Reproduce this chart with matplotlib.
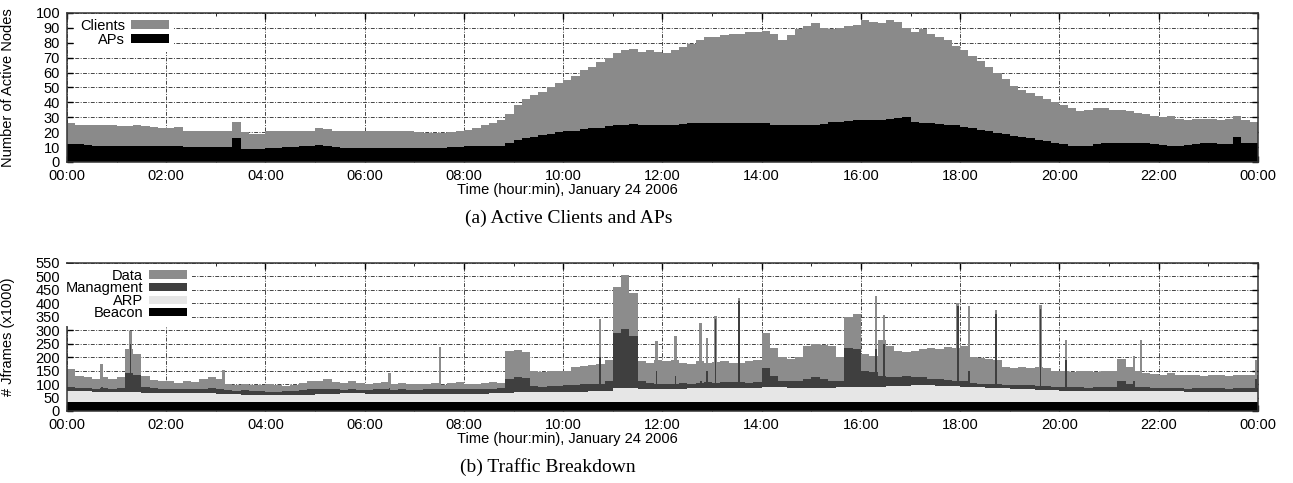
import matplotlib
matplotlib.use("Agg")
import matplotlib.pyplot as plt
import numpy as np

plt.rcParams['font.family'] = ['Liberation Sans', 'DejaVu Sans']

# time axis (hours), labels every 2 hours
hour_ticks = [0, 2, 4, 6, 8, 10, 12, 14, 16, 18, 20, 22, 24]
hour_labels = ["00:00", "02:00", "04:00", "06:00", "08:00", "10:00", "12:00",
               "14:00", "16:00", "18:00", "20:00", "22:00", "00:00"]

# (a) active nodes, one value per 10 minutes, 00:00 .. 24:00
clients = [26, 25, 25, 24.5, 25, 24.5,
           24, 24, 24.5, 24, 23.5, 23,
           23, 23.5, 21, 21, 20.5, 21,
           21, 20.5, 27, 20, 19, 18.5,
           20.5, 20.5, 21, 21, 20.5, 21,
           22.5, 22, 21, 21, 21, 20.5,
           20.5, 20.5, 20.5, 20.5, 20.5, 20.5,
           20, 19.5, 19.5, 19.5, 20, 21,
           21.5, 23, 25, 26, 28, 32,
           38, 42, 45, 47, 50, 53,
           55, 58, 62, 64, 67, 70,
           73, 75, 76, 74, 75, 74,
           73, 75, 77, 79, 82, 84,
           84, 85, 86, 86, 87, 87,
           88, 86, 82, 85, 89, 91,
           93, 90, 89, 90, 91, 92,
           95, 94, 93, 95, 94, 90,
           87, 89, 86, 84, 82, 78,
           75, 71, 68, 64, 60, 56,
           51, 48, 46, 44, 42, 40,
           38, 36, 34, 35, 36, 36,
           35, 35, 34, 33, 32, 31,
           30, 31, 29, 28.5, 29, 29,
           29, 28.5, 29, 31, 28, 27,
           27]
aps = [12, 12, 11.5, 11, 11, 11,
       11, 10.5, 10.5, 10.5, 10.5, 10.5,
       10.5, 10.5, 10, 10, 10, 10,
       10, 10, 16, 9, 8.5, 9,
       9.5, 9.5, 10, 10, 10.5, 11,
       11.5, 11, 10, 9.5, 9.5, 9.5,
       9.5, 9.5, 9.5, 9.5, 9.5, 9.5,
       9.5, 9.5, 9.5, 9.5, 10, 10,
       10.5, 10.5, 11, 11, 11, 13,
       15, 16, 17, 18, 19, 20,
       20.5, 21, 22, 23, 23, 24,
       24.5, 25, 25.5, 25, 24.5, 24.5,
       24.5, 25, 25.5, 26, 26, 26,
       26, 26, 26, 26.5, 26.5, 26.5,
       26, 25, 24.5, 24.5, 25, 25,
       25, 25.5, 27, 27, 27.5, 28,
       28.5, 28, 28.5, 29, 29.5, 30,
       27, 26, 26, 25.5, 25, 24.5,
       23.5, 22.5, 21.5, 20.5, 19.5, 18.5,
       17.5, 16.5, 16, 15, 14, 13,
       12, 11, 10.5, 11, 12, 12.5,
       12.5, 12.5, 12.5, 12.5, 12.5, 12,
       11.5, 11, 11, 11.5, 12, 12.5,
       12.5, 12, 12, 17, 12.5, 12.5,
       12]

# (b) frames (x1000), top of each stacked layer
data_top = [155, 130, 125, 120, 128, 118,
            125, 230, 210, 130, 115, 112,
            110, 105, 112, 108, 120, 128,
            118, 100, 98, 100, 95, 98,
            100, 95, 92, 98, 105, 112,
            110, 118, 108, 105, 112, 105,
            102, 105, 108, 100, 104, 100,
            100, 102, 104, 98, 105, 108,
            100, 102, 104, 108, 105, 222,
            228, 218, 148, 145, 150, 148,
            150, 165, 168, 170, 175, 190,
            460, 505, 440, 185, 180, 190,
            185, 190, 180, 175, 185, 180,
            182, 185, 180, 178, 185, 190,
            290, 235, 200, 195, 200, 240,
            250, 245, 240, 200, 350, 360,
            210, 205, 265, 240, 222, 220,
            222, 230, 235, 232, 238, 235,
            240, 200, 197, 195, 190, 165,
            160, 162, 158, 165, 160, 150,
            148, 145, 150, 148, 145, 150,
            150, 195, 165, 150, 140, 138,
            135, 140, 135, 132, 135, 130,
            135, 132, 130, 135, 133, 135,
            160]
mgmt_top = [88, 85, 85, 83, 85, 82,
            85, 140, 135, 90, 84, 82,
            82, 80, 82, 80, 82, 84,
            80, 78, 76, 78, 76, 75,
            72, 70, 74, 76, 78, 80,
            80, 82, 80, 78, 80, 78,
            78, 80, 80, 78, 80, 78,
            78, 80, 80, 82, 80, 80,
            80, 82, 80, 82, 84, 120,
            125, 122, 92, 90, 92, 94,
            95, 98, 100, 102, 100, 110,
            290, 305, 280, 110, 105, 102,
            100, 102, 104, 102, 104, 106,
            104, 106, 108, 106, 104, 108,
            160, 130, 110, 112, 110, 120,
            125, 120, 110, 112, 235, 230,
            150, 145, 130, 128, 125, 130,
            128, 125, 120, 118, 115, 112,
            110, 105, 102, 100, 100, 98,
            96, 95, 95, 94, 92, 90,
            90, 88, 88, 86, 88, 90,
            88, 110, 100, 90, 88, 86,
            86, 85, 84, 82, 84, 85,
            85, 84, 82, 84, 85, 84,
            84]
# 30 minute steps
arp_top = [75, 72, 70, 68, 67, 65, 62, 60, 58, 60, 63, 65, 64, 63, 62, 63,
           64, 65, 72, 70, 72, 76, 85, 80, 82, 84, 85, 86, 88, 86, 85, 88,
           90, 92, 98, 92, 90, 85, 80, 78, 76, 75, 74, 74, 73, 72, 72, 72, 72]
# 1 hour steps
beacon_top = [33, 33, 33, 34, 33, 33, 33, 33, 33, 32, 33, 33, 33,
              33, 33, 34, 33, 33, 33, 33, 33, 33, 33, 33, 33]

# short bursts (hour, data top, management top)
spike_hours = [0.70, 1.28, 3.15, 6.50, 7.52, 10.74, 11.88, 12.26, 12.77, 12.90, 13.07,
               13.54, 16.30, 16.46, 17.95, 18.18, 18.72, 19.62, 20.13, 21.50, 21.64, 23.96]
spike_data = [175, 296, 154, 141, 237, 340, 259, 277, 327, 271, 352,
              420, 426, 358, 401, 389, 377, 395, 265, 203, 265, 191]
spike_mgmt = [90, 250, 80, 85, 75, 200, 150, 130, 110, 150, 340,
              410, 230, 250, 390, 150, 360, 380, 190, 110, 90, 120]


def hours_for(values):
    return np.linspace(0, 24, len(values))


def style_axes(ax, ymax, ystep, ylabel):
    ax.set_xlim(0, 24)
    ax.set_ylim(0, ymax)
    ax.set_xticks(hour_ticks)
    ax.set_xticklabels(hour_labels)
    ax.set_xticks(np.arange(1, 24, 2), minor=True)
    ax.set_yticks(np.arange(0, ymax + 1, ystep))
    ax.tick_params(direction='in', top=True, right=True, labelsize=10.5,
                   length=4, width=1)
    ax.tick_params(axis='x', pad=5)
    ax.tick_params(axis='y', pad=5)
    ax.tick_params(which='minor', direction='in', top=True, bottom=True, length=2.5)
    ax.set_axisbelow(True)
    ax.grid(True, color='#444444', linestyle=(0, (4, 1.5, 1, 1.5)), linewidth=0.7)
    for s in ax.spines.values():
        s.set_linewidth(1.1)
        s.set_color('#333333')
    ax.set_ylabel(ylabel, fontsize=10.5)
    ax.yaxis.set_label_coords(-0.0437, 0.5)
    ax.set_xlabel('Time (hour:min), January 24 2006', fontsize=10.5, va='center')


def white_legend(ax, x0, spacing):
    leg = ax.legend(loc='upper left', bbox_to_anchor=(x0, 1.0), markerfirst=False,
                    fontsize=10.5, frameon=True, fancybox=False, borderaxespad=0.05,
                    borderpad=0.35, handlelength=2.6, handleheight=0.5,
                    handletextpad=0.4, labelspacing=spacing)
    leg.get_frame().set_edgecolor('none')
    leg.get_frame().set_facecolor('white')
    leg.get_frame().set_alpha(1)
    return leg


fig = plt.figure(figsize=(12.93, 4.83), dpi=100)

# (a) Active clients and APs
ax1 = fig.add_axes([0.0518, 0.6646, 0.9211, 0.3085])
ax1.fill_between(hours_for(clients), 0, clients, step='post', color='#8a8a8a',
                 linewidth=0, label='Clients')
ax1.fill_between(hours_for(aps), 0, aps, step='post', color='black',
                 linewidth=0, label='APs')
style_axes(ax1, 100, 10, 'Number of Active Nodes')
ax1.xaxis.set_label_coords(0.42, -0.19)
white_legend(ax1, 0.006, 0.0)

# (b) Traffic breakdown
ax2 = fig.add_axes([0.0518, 0.1491, 0.9211, 0.3064])
ax2.fill_between(hours_for(data_top), 0, data_top, step='post', color='#8c8c8c',
                 linewidth=0, label='Data', zorder=1)
ax2.bar(spike_hours, spike_data, width=0.05, color='#8c8c8c', linewidth=0, zorder=1.1)
ax2.fill_between(hours_for(mgmt_top), 0, mgmt_top, step='post', color='#3f3f3f',
                 linewidth=0, label='Managment', zorder=1.2)
ax2.bar(spike_hours, spike_mgmt, width=0.035, color='#3f3f3f', linewidth=0, zorder=1.3)
ax2.fill_between(hours_for(arp_top), 0, arp_top, step='post', color='#e6e6e6',
                 linewidth=0, label='ARP', zorder=1.4)
ax2.fill_between(hours_for(beacon_top), 0, beacon_top, step='post', color='black',
                 linewidth=0, label='Beacon', zorder=1.5)
style_axes(ax2, 550, 50, '# Jframes (x1000)')
ax2.xaxis.set_label_coords(0.42, -0.191)
white_legend(ax2, -0.006, -0.1)

fig.text(569 / 1293, 1 - 218 / 483, '(a) Active Clients and APs',
         family=['Liberation Serif', 'DejaVu Serif'], fontsize=14, ha='center', va='center')
fig.text(548 / 1293, 1 - 467 / 483, '(b) Traffic Breakdown',
         family=['Liberation Serif', 'DejaVu Serif'], fontsize=14, ha='center', va='center')

fig.savefig('out.png', dpi=100)
